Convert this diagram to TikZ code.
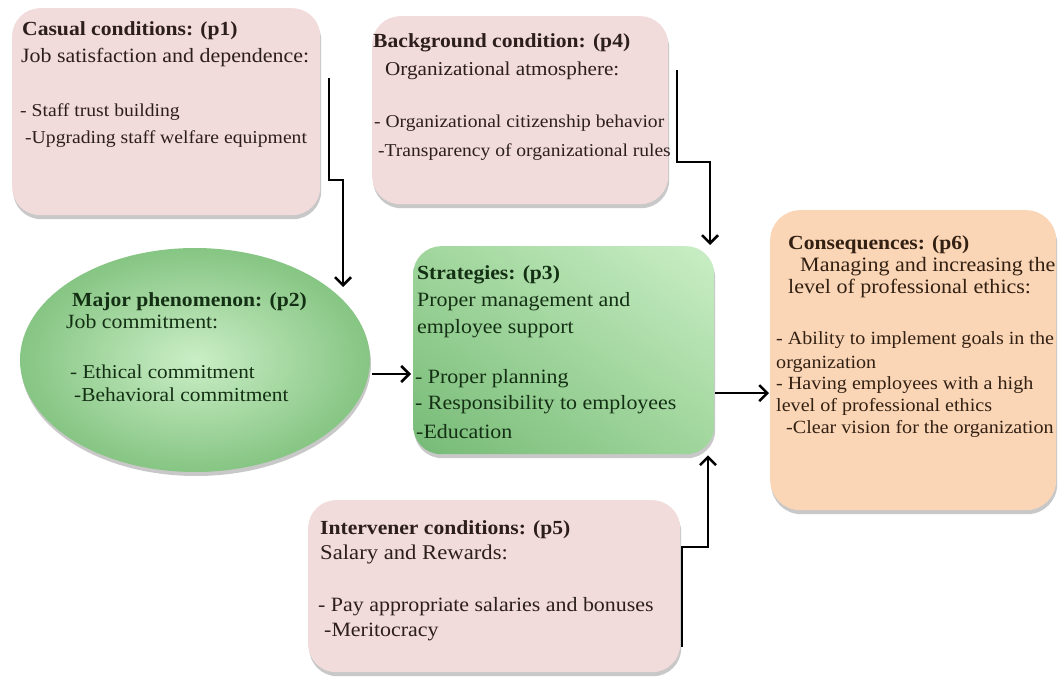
\documentclass[tikz,border=0pt]{standalone}
\usepackage{fontspec}
\setmainfont[FakeStretch=1.08]{Liberation Serif}
\usetikzlibrary{arrows.meta,shadows,shapes.geometric,shadings}
\definecolor{pinkf}{RGB}{241,219,219}
\definecolor{peachf}{RGB}{250,213,182}
\definecolor{gdark}{RGB}{118,186,118}
\definecolor{glight}{RGB}{202,238,198}
\definecolor{gmid}{RGB}{160,214,156}
\definecolor{gedge}{RGB}{138,200,134}
\definecolor{txtp}{RGB}{45,30,30}
\definecolor{txtg}{RGB}{20,48,20}
\definecolor{txto}{RGB}{50,32,18}
\begin{document}
\begin{tikzpicture}[x=1pt,y=-1pt,
  shad/.style={drop shadow={shadow xshift=1pt,shadow yshift=-4pt,opacity=0.3,fill=black!70}},
  boxp/.style={rectangle,rounded corners=28pt,anchor=north west,inner sep=0,fill=pinkf,shad},
  boxo/.style={rectangle,rounded corners=30pt,anchor=north west,inner sep=0,fill=peachf,shad},
  boxg/.style={rectangle,rounded corners=28pt,anchor=north west,inner sep=0,shad,
     upper left=gmid,upper right=glight,lower left=gdark,lower right=gmid},
  tt/.style={anchor=base west,inner sep=0,font=\fontsize{20}{24}\selectfont\bfseries},
  tb/.style={anchor=base west,inner sep=0,font=\fontsize{#1}{24}\selectfont},
  arr/.style={line width=2.5pt,-{Straight Barb[length=8pt,width=16pt,line width=2.5pt]}}
]
\useasboundingbox (0,0) rectangle (1058,677);
\fill[white] (0,0) rectangle (1058,677);

% shapes
\node[boxp,minimum width=308pt,minimum height=207pt] (p1) at (12,8) {};
\node[boxp,minimum width=296pt,minimum height=188pt] (p4) at (372,16) {};
\node[ellipse,minimum width=350pt,minimum height=224pt,inner sep=0,
      inner color=glight,outer color=gedge!80!gdark,shad] (p2) at (195,360) {};
\node[boxg,minimum width=301pt,minimum height=208pt] (p3) at (413,246) {};
\node[boxo,minimum width=286pt,minimum height=300pt] (p6) at (770,210) {};
\node[boxp,minimum width=372pt,minimum height=172pt] (p5) at (308,500) {};

% p1 text
\begin{scope}[text=txtp]
\node[tt] (p1a) at (22,36) {Casual conditions: (p1)};
\node[tb=20.3] (p1b) at (21,63) {Job satisfaction and dependence:};
\node[tb=18.2] (p1c) at (20,116) {- Staff trust building};
\node[tb=18.2] (p1d) at (25,143) {-Upgrading staff welfare equipment};
% p4 text
\node[tt] (p4a) at (373,48) {Background condition: (p4)};
\node[tb=19.6] (p4b) at (385,76) {Organizational atmosphere:};
\node[tb=18.1] (p4c) at (374,128) {- Organizational citizenship behavior};
\node[tb=18.1] (p4d) at (378,156) {-Transparency of organizational rules};
% p5 text
\node[tt] (p5a) at (320,534) {Intervener conditions: (p5)};
\node[tb=21] (p5b) at (320,559) {Salary and Rewards:};
\node[tb=20.3] (p5c) at (318,611) {- Pay appropriate salaries and bonuses};
\node[tb=20.3] (p5d) at (324,636) {-Meritocracy};
\end{scope}

% p2 text
\begin{scope}[text=txtg]
\node[tt] (p2a) at (72,306) {Major phenomenon: (p2)};
\node[tb=20.2] (p2b) at (66,328) {Job commitment:};
\node[tb=19.6] (p2c) at (70,378) {- Ethical commitment};
\node[tb=19.8] (p2d) at (74,401) {-Behavioral commitment};
% p3 text
\node[tt] (p3a) at (417,279) {Strategies: (p3)};
\node[tb=20.3] (p3b) at (417,306) {Proper management and};
\node[tb=20.3] (p3c) at (417,333) {employee support};
\node[tb=20.3] (p3d) at (415,383) {- Proper planning};
\node[tb=20.3] (p3e) at (415,409) {- Responsibility to employees};
\node[tb=20.3] (p3f) at (416,438) {-Education};
\end{scope}

% p6 text
\begin{scope}[text=txto]
\node[tt] (p6a) at (788,249) {Consequences: (p6)};
\node[tb=20.4] (p6b) at (800,271) {Managing and increasing the};
\node[tb=20.4] (p6c) at (788,293) {level of professional ethics:};
\node[tb=18.6] (p6d) at (776,344) {- Ability to implement goals in the};
\node[tb=18.6] (p6e) at (776,368) {organization};
\node[tb=18.6] (p6f) at (776,389) {- Having employees with a high};
\node[tb=18.6] (p6g) at (776,411) {level of professional ethics};
\node[tb=18.6] (p6h) at (786,433) {-Clear vision for the organization};
\end{scope}

% connectors
\coordinate (c1s) at (329,78);
\coordinate (c1m) at (343,180);
\coordinate (c1e) at (343,287);
\draw[arr] (c1s) |- (c1m) -- (c1e);

\coordinate (c4s) at (677,70);
\coordinate (c4m) at (710,162);
\draw[arr,shorten >=1pt] (c4s) |- (c4m) -- (c4m |- p3.north);

\coordinate (c5s) at (682,647);
\coordinate (c5m) at (708,547);
\draw[arr,shorten >=1pt] (c5s) |- (c5m) -- (c5m |- p3.south);

\draw[arr,shorten <=2pt,shorten >=2pt] ([yshift=-14pt]p2.east) -- ([yshift=-14pt]p2.east -| p3.west);
\draw[arr,shorten <=1pt,shorten >=1pt] ([yshift=-43pt]p3.east) -- ([yshift=-43pt]p3.east -| p6.west);
\end{tikzpicture}
\end{document}
